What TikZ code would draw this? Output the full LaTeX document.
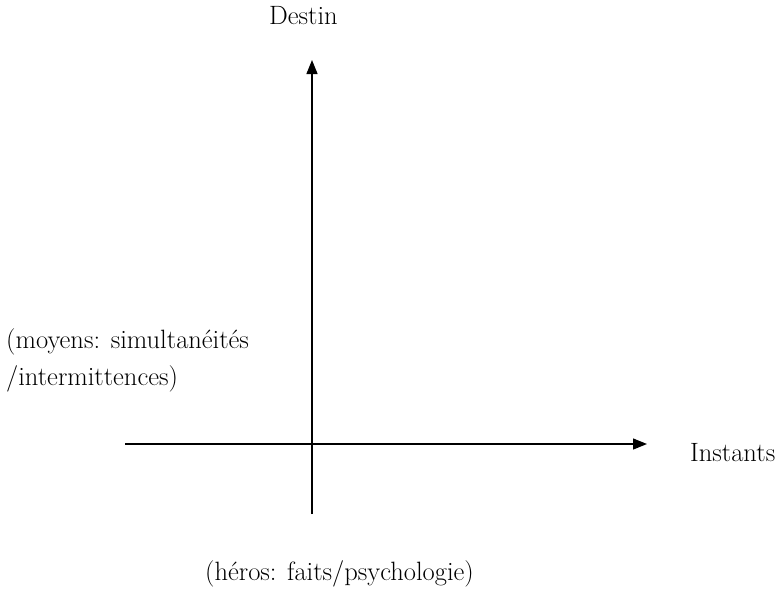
\documentclass[tikz,border=0pt]{standalone}
\usetikzlibrary{arrows.meta}
\begin{document}
\begin{tikzpicture}[x=1pt,y=-1pt,every node/.style={font=\fontsize{26.5}{30}\selectfont,inner sep=0pt}]
\useasboundingbox (0,0) rectangle (779,592);
\coordinate (xl) at (125,444);
\coordinate (xr) at (647,444);
\coordinate (yb) at (312,514);
\coordinate (yt) at (312,60);
\draw[line width=1.3pt,-{Triangle[length=14pt,width=11pt]}] (xl) -- (xr);
\draw[line width=1.3pt,-{Triangle[length=14pt,width=11pt]}] (yb) -- (yt);
\node[anchor=base] (destin) at (303.5,24) {Destin};
\node[anchor=base west] (instants) at (690,461) {Instants};
\node[anchor=base west] (moyens) at (6,348) {(moyens: simultanéités};
\node[anchor=base west] (intermit) at (6,385) {/intermittences)};
\node[anchor=base west] (heros) at (205,580) {(héros: faits/psychologie)};
\end{tikzpicture}
\end{document}
